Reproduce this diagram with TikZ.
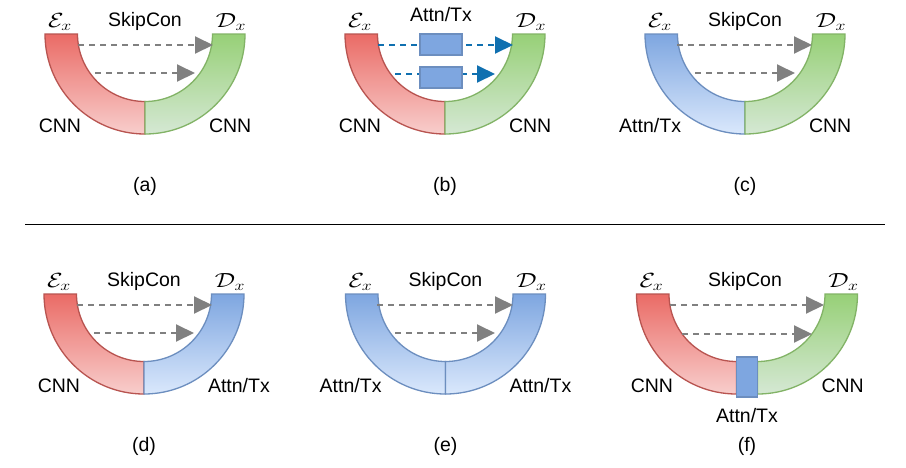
\RequirePackage{fix-cm}
\documentclass[tikz,border=0pt]{standalone}
\usepackage{fontspec}
\usepackage{graphicx}
\setmainfont{Liberation Sans}
\usetikzlibrary{arrows.meta}
\definecolor{redS}{HTML}{B85450}
\definecolor{redT}{HTML}{EA6B66}
\definecolor{redB}{HTML}{F8CECC}
\definecolor{grnS}{HTML}{82B366}
\definecolor{grnT}{HTML}{97D077}
\definecolor{grnB}{HTML}{D5E8D4}
\definecolor{bluS}{HTML}{6C8EBF}
\definecolor{bluT}{HTML}{7EA6E0}
\definecolor{bluB}{HTML}{DAE8FC}
\definecolor{skipgray}{HTML}{808080}
\definecolor{attnblue}{HTML}{1070B0}
\newcommand\uhalfL[3]{\path[#3] (#1-100,#2) arc[start angle=180,end angle=90,radius=100] -- (#1,#2+67.5) arc[start angle=90,end angle=180,radius=67.5] -- cycle;}
\newcommand\uhalfR[3]{\path[#3] (#1,#2+100) arc[start angle=90,end angle=0,radius=100] -- (#1+67.5,#2) arc[start angle=0,end angle=90,radius=67.5] -- cycle;}
\newcommand\encE{\scalebox{1.3}[1.05]{$\mathcal{E}_x$}}
\newcommand\decD{\scalebox{1.3}[1.05]{$\mathcal{D}_x$}}
\tikzset{
  redU/.style={draw=redS, top color=redT, bottom color=redB, line width=1.3pt},
  grnU/.style={draw=grnS, top color=grnT, bottom color=grnB, line width=1.3pt},
  bluU/.style={draw=bluS, top color=bluT, bottom color=bluB, line width=1.3pt},
  lbl/.style={font=\fontsize{19.5}{23}\selectfont, inner sep=0pt, outer sep=0pt},
  skiparrow/.style={draw=skipgray, line width=2pt, dash pattern=on 6pt off 5pt, -{Triangle[length=18pt,width=17pt]}},
  attnarrow/.style={draw=attnblue, line width=2pt, dash pattern=on 6pt off 5pt, -{Triangle[length=18pt,width=17pt]}},
  attnbox/.style={draw=bluS, fill=bluT, line width=1.3pt, inner sep=0pt, minimum width=42pt, minimum height=21pt},
  vbox/.style={draw=bluS, fill=bluT, line width=1.3pt, inner sep=0pt, minimum width=21pt, minimum height=40pt}
}
\begin{document}
\begin{tikzpicture}[x=1pt,y=-1pt]
\useasboundingbox[fill=white] (0,0) rectangle (906,467);

% ---------- (a) ----------
\uhalfL{145}{34}{redU}
\uhalfR{145}{34}{grnU}
\node[lbl,anchor=base] (aE) at (60,27) {\encE};
\node[lbl,anchor=base] (aD) at (231,27) {\decD};
\node[lbl,anchor=base] (aS) at (145,26) {SkipCon};
\node[lbl,anchor=base east] (aL) at (81,132) {CNN};
\node[lbl,anchor=base west] (aR) at (209,132) {CNN};
\node[lbl,anchor=base] (acap) at (145,191) {(a)};
\coordinate (a1s) at (78,45); \coordinate (a1e) at (213,45);
\coordinate (a2s) at (95,73); \coordinate (a2e) at (195,73);
\draw[skiparrow] (a1s) -- (a1e);
\draw[skiparrow] (a2s) -- (a2e);

% ---------- (b) ----------
\uhalfL{445}{34}{redU}
\uhalfR{445}{34}{grnU}
\node[lbl,anchor=base] (bE) at (360,27) {\encE};
\node[lbl,anchor=base] (bD) at (531,27) {\decD};
\node[lbl,anchor=base] (bS) at (441,21) {Attn/Tx};
\node[lbl,anchor=base east] (bL) at (381,132) {CNN};
\node[lbl,anchor=base west] (bR) at (509,132) {CNN};
\node[lbl,anchor=base] (bcap) at (445,191) {(b)};
\coordinate (b1s) at (378,45); \coordinate (b1e) at (513,45);
\coordinate (b2s) at (395,74); \coordinate (b2e) at (495,74);
\draw[attnarrow] (b1s) -- (b1e);
\draw[attnarrow] (b2s) -- (b2e);
\node[attnbox] (bbox1) at (441,44.5) {};
\node[attnbox] (bbox2) at (441,77.5) {};

% ---------- (c) ----------
\uhalfL{745}{34}{bluU}
\uhalfR{745}{34}{grnU}
\node[lbl,anchor=base] (cE) at (660,27) {\encE};
\node[lbl,anchor=base] (cD) at (831,27) {\decD};
\node[lbl,anchor=base] (cS) at (745,26) {SkipCon};
\node[lbl,anchor=base east] (cL) at (681,132) {Attn/Tx};
\node[lbl,anchor=base west] (cR) at (809,132) {CNN};
\node[lbl,anchor=base] (ccap) at (745,191) {(c)};
\coordinate (c1s) at (677,45); \coordinate (c1e) at (812,45);
\coordinate (c2s) at (695,73); \coordinate (c2e) at (795,73);
\draw[skiparrow] (c1s) -- (c1e);
\draw[skiparrow] (c2s) -- (c2e);

% ---------- separator ----------
\coordinate (sepL) at (25,224.5); \coordinate (sepR) at (885,224.5);
\draw[line width=1.3pt] (sepL) -- (sepR);

% ---------- (d) ----------
\uhalfL{144}{294}{redU}
\uhalfR{144}{294}{bluU}
\node[lbl,anchor=base] (dE) at (59,287) {\encE};
\node[lbl,anchor=base] (dD) at (230,287) {\decD};
\node[lbl,anchor=base] (dS) at (144,286) {SkipCon};
\node[lbl,anchor=base east] (dL) at (80,392) {CNN};
\node[lbl,anchor=base west] (dR) at (208,392) {Attn/Tx};
\node[lbl,anchor=base] (dcap) at (144,451) {(d)};
\coordinate (d1s) at (77,305); \coordinate (d1e) at (212,305);
\coordinate (d2s) at (94,333); \coordinate (d2e) at (194,333);
\draw[skiparrow] (d1s) -- (d1e);
\draw[skiparrow] (d2s) -- (d2e);

% ---------- (e) ----------
\uhalfL{445.5}{294}{bluU}
\uhalfR{445.5}{294}{bluU}
\node[lbl,anchor=base] (eE) at (360.5,287) {\encE};
\node[lbl,anchor=base] (eD) at (531.5,287) {\decD};
\node[lbl,anchor=base] (eS) at (445.5,286) {SkipCon};
\node[lbl,anchor=base east] (eL) at (381.5,392) {Attn/Tx};
\node[lbl,anchor=base west] (eR) at (509.5,392) {Attn/Tx};
\node[lbl,anchor=base] (ecap) at (445.5,451) {(e)};
\coordinate (e1s) at (377,305); \coordinate (e1e) at (513,305);
\coordinate (e2s) at (395,333); \coordinate (e2e) at (495,333);
\draw[skiparrow] (e1s) -- (e1e);
\draw[skiparrow] (e2s) -- (e2e);

% ---------- (f) ----------
\uhalfL{736.5}{294}{redU}
\uhalfR{757.5}{294}{grnU}
\node[vbox] (fbox) at (747,377) {};
\node[lbl,anchor=base] (fE) at (651.5,287) {\encE};
\node[lbl,anchor=base] (fD) at (843.5,287) {\decD};
\node[lbl,anchor=base] (fS) at (745,286) {SkipCon};
\node[lbl,anchor=base east] (fL) at (673,392) {CNN};
\node[lbl,anchor=base west] (fR) at (821.5,392) {CNN};
\node[lbl,anchor=base] (fB) at (747,422) {Attn/Tx};
\node[lbl,anchor=base] (fcap) at (747,451) {(f)};
\coordinate (f1s) at (670,305); \coordinate (f1e) at (824,305);
\coordinate (f2s) at (682,334); \coordinate (f2e) at (812,334);
\draw[skiparrow] (f1s) -- (f1e);
\draw[skiparrow] (f2s) -- (f2e);
\end{tikzpicture}
\end{document}
